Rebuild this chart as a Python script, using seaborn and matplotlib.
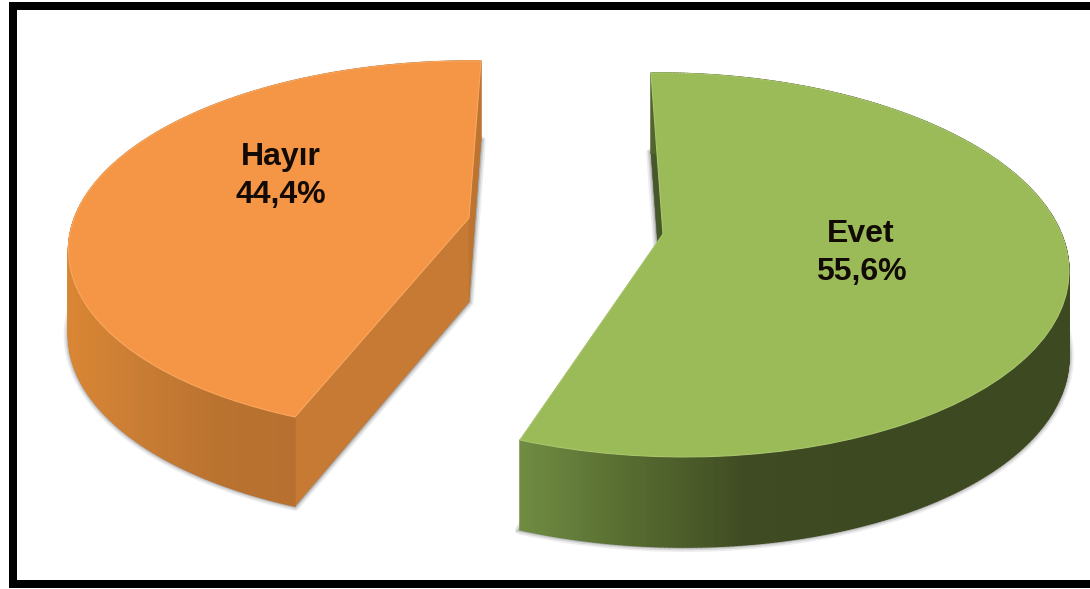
import numpy as np
import matplotlib
matplotlib.use("Agg")
import matplotlib.pyplot as plt
from matplotlib.patches import Wedge
from matplotlib.transforms import Transform
from matplotlib.collections import PolyCollection
import seaborn as sns

# ---- data ----
categories = ["Evet", "Hayır"]
values = [55.6, 44.4]
top_colors = ["#9BBB59", "#F59646"]
edge_colors = ["#A9C66C", "#F9A75E"]
side_stops = [["#6F8C42", "#566A30", "#3F4B22", "#3D4921"],
              ["#D98634", "#C87C34", "#BA7230", "#B87030"]]
far_face = ["#465729", "#C67A34"]
near_face = ["#6F8C42", "#BC7430"]
# picture anchors of the tilted discs (pixel positions of disc centre and rim)
anchors = [
    {"c": (663, 234), "start": (651, 73), "end": (520, 440), "ref": (0, (1061, 233))},
    {"c": (469, 218), "start": (295, 417), "end": (481, 61), "ref": (180, (76, 214))},
]
label_pos = [(861, 253), (281, 176)]


def homography(src, dst):
    A, b = [], []
    for (x, y), (u, v) in zip(src, dst):
        A.append([x, y, 1, 0, 0, 0, -u * x, -u * y]); b.append(u)
        A.append([0, 0, 0, x, y, 1, -v * x, -v * y]); b.append(v)
    return np.append(np.linalg.solve(np.array(A, float), np.array(b, float)), 1).reshape(3, 3)


def unit(deg):
    return np.cos(np.radians(deg)), np.sin(np.radians(deg))


def depth(y):
    return 80 + (y - 65) * 0.026


class Tilt(Transform):
    input_dims = output_dims = 2
    is_affine = False

    def __init__(self, H, lower=False):
        super().__init__()
        self.H, self.lower = H, lower

    def transform_non_affine(self, xy):
        xy = np.asarray(xy, float)
        p = np.c_[xy, np.ones(len(xy))] @ self.H.T
        out = p[:, :2] / p[:, 2:]
        if self.lower:
            out[:, 1] += depth(out[:, 1])
        return out


sns.set_theme(style="white")
plt.rcParams["font.family"] = ["Liberation Sans", "DejaVu Sans"]
fig, ax = plt.subplots(figsize=(10.9, 5.89), dpi=100)
ax.set_position([0, 0, 1, 1])

# pie twice: lower discs (soft shadow), upper discs (surface)
lower, _ = ax.pie(values, startangle=90, counterclock=False, radius=1)
upper, _ = ax.pie(values, startangle=90, counterclock=False, radius=1)
ax.set_aspect("auto")
ax.set_xlim(0, 1090)
ax.set_ylim(589, 0)
ax.axis("off")

for i, (lo, up) in enumerate(zip(lower, upper)):
    a = anchors[i]
    t1, t2 = up.theta1, up.theta2
    H = homography(
        [(0, 0), unit(t2), unit(t1), unit(a["ref"][0])],
        [a["c"], a["start"], a["end"], a["ref"][1]],
    )
    tr_up, tr_lo = Tilt(H), Tilt(H, True)

    # shadow
    lo.set_transform(tr_lo + ax.transData)
    lo.set(facecolor="#555555", edgecolor="#555555", alpha=0.10, linewidth=7,
           joinstyle="round", zorder=1, clip_on=False)
    for lw, al in [(4.5, 0.16), (2.2, 0.30)]:
        ax.add_patch(Wedge((0, 0), 1, t1, t2, facecolor="#555555", edgecolor="#555555",
                           alpha=al, linewidth=lw, transform=tr_lo + ax.transData, zorder=1))

    # radial faces
    c_up = tr_up.transform([(0, 0)])[0]
    for ang, col in ((t2, far_face[i]), (t1, near_face[i])):
        rim = tr_up.transform([unit(ang)])[0]
        pts = [c_up, rim, tr_lo.transform([unit(ang)])[0], tr_lo.transform([(0, 0)])[0]]
        zo = 2 if ang == t2 or i == 0 else 3
        ax.fill(*zip(*pts), color=col, lw=0.3, zorder=zo)

    # curved side
    th = np.linspace(t1, t2, 361)
    ring = np.c_[np.cos(np.radians(th)), np.sin(np.radians(th))]
    rim_up = tr_up.transform(ring)
    rim_lo = tr_lo.transform(ring)
    quads = [[rim_up[k], rim_up[k + 1], rim_lo[k + 1], rim_lo[k]] for k in range(360)]
    pal = sns.blend_palette(side_stops[i], 256)
    xm = rim_up[:-1, 0]
    if i == 0:
        f = np.clip((xm - 520) / 340, 0, 1)
    else:
        f = np.clip((xm - 70) / 225, 0, 1)
    cols = [pal[int(v * 255)] for v in f]
    ax.add_collection(PolyCollection(quads, facecolors=cols, edgecolors=cols,
                                     linewidths=1.0, zorder=2.5))

    # top surface
    up.set_transform(tr_up + ax.transData)
    up.set(facecolor=top_colors[i], edgecolor=edge_colors[i], linewidth=0.8, zorder=4,
           clip_on=False)

    txt = f"{categories[i]}\n{values[i]:.1f}%".replace(".", ",")
    ax.text(*label_pos[i], txt, ha="center", va="center", fontsize=23, fontweight="bold",
            color="#120A05", linespacing=1.35, zorder=5)

# picture frame
for xs, ys in (([12.5, 12.5], [2, 588]), ([9, 1090], [6, 6]), ([9, 1090], [584, 584])):
    ax.plot(xs, ys, color="black", lw=5.76, solid_capstyle="butt", zorder=6, clip_on=False)

fig.savefig("out.png", dpi=100, facecolor="white")
